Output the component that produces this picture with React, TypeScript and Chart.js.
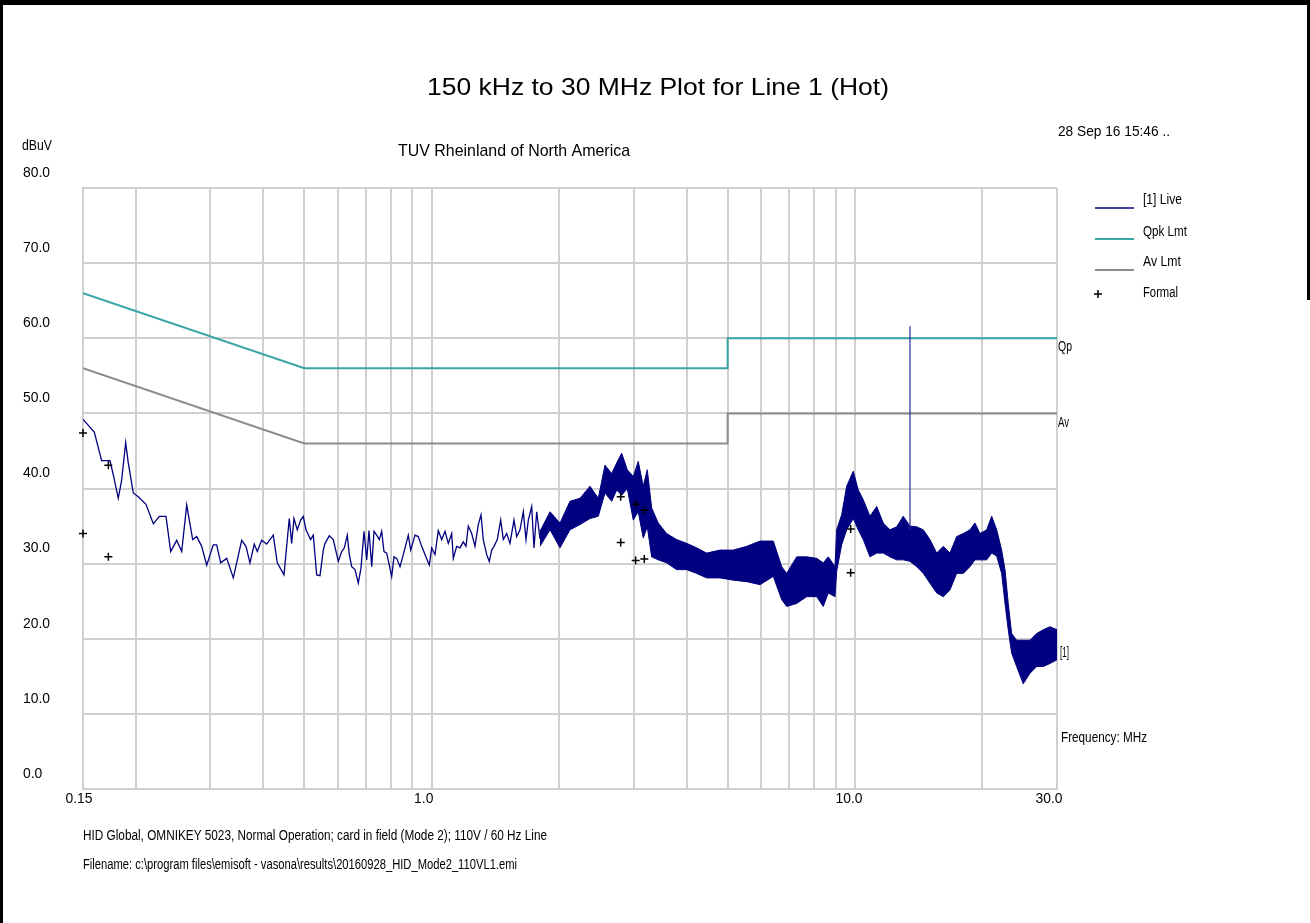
import React, { useEffect, useRef } from "react";
import { Chart, registerables } from "chart.js";
Chart.register(...registerables);

// ---- Data (frequency in MHz, level in dBuV) ----
const liveFreq = [
  0.15, 0.1595, 0.166, 0.1737, 0.1769, 0.1817, 0.1851, 0.1892, 0.1919, 0.1972,
  0.2026, 0.2113, 0.2199, 0.2272, 0.2356, 0.2417, 0.2497, 0.2566, 0.2637, 0.2724,
  0.2784, 0.2861, 0.294, 0.3047, 0.3104, 0.3172, 0.3278, 0.3398, 0.3556, 0.364,
  0.372, 0.3808, 0.3871, 0.3965, 0.4074, 0.4223, 0.4316, 0.4476, 0.4607, 0.4667,
  0.4726, 0.4812, 0.4902, 0.4971, 0.5045, 0.5175, 0.525, 0.5348, 0.5445, 0.5543,
  0.5595, 0.5727, 0.5853, 0.6015, 0.6127, 0.6214, 0.6317, 0.6386, 0.647, 0.6587,
  0.6706, 0.6805, 0.6917, 0.702, 0.7108, 0.7214, 0.7304, 0.7412, 0.7518, 0.7616,
  0.7712, 0.7827, 0.7938, 0.8042, 0.8144, 0.8264, 0.8414, 0.8566, 0.8802, 0.8918,
  0.9129, 0.9294, 0.9468, 0.9639, 0.9867, 0.9997, 1.0178, 1.0362, 1.0556, 1.0747,
  1.0942, 1.1146, 1.1243, 1.1453, 1.166, 1.1872, 1.2047, 1.2199, 1.2427, 1.2652,
  1.2881, 1.3072, 1.3236, 1.3483, 1.3675, 1.3855, 1.4029, 1.4283, 1.455, 1.4757,
  1.5033, 1.5305, 1.5642, 1.5873, 1.6161, 1.6455, 1.6699, 1.6909, 1.7224, 1.7441,
  1.7699, 1.802,
];
const liveLevel = [
  49.2, 47.5, 43.7, 43.7, 41.8, 38.7, 41.1, 46.1, 43.4, 39.4,
  38.9, 37.9, 35.3, 36.3, 36.3, 31.6, 33.1, 31.6, 37.8, 33.2,
  33.6, 32.3, 29.8, 32.5, 32.5, 30.1, 30.7, 28.1, 33.1, 32.3,
  30.1, 32.6, 31.6, 33.1, 32.6, 33.8, 30.1, 28.5, 36.0, 32.7,
  36.0, 34.5, 35.8, 36.3, 34.5, 33.2, 33.8, 28.5, 28.4, 31.8,
  32.7, 33.7, 33.2, 30.3, 31.6, 32.1, 33.8, 31.2, 29.6, 29.2,
  27.4, 29.4, 34.3, 30.5, 34.4, 29.6, 34.3, 33.8, 33.2, 34.3,
  31.6, 31.4, 29.8, 28.3, 30.9, 30.7, 29.6, 31.2, 33.8, 31.8,
  33.8, 33.6, 32.3, 31.2, 29.8, 32.1, 31.2, 34.4, 33.2, 34.3,
  32.7, 34.0, 30.7, 32.3, 32.1, 32.9, 32.3, 35.0, 34.0, 32.3,
  35.2, 36.5, 33.2, 31.2, 30.3, 31.8, 32.3, 33.2, 35.8, 33.2,
  34.0, 32.7, 35.8, 33.6, 34.5, 36.9, 33.2, 35.8, 37.6, 32.1,
  36.9, 33.3,
];

// dense part of the trace: upper / lower envelope
const bandFreq = [
  1.802, 1.903, 2.009, 2.121, 2.24, 2.365, 2.474, 2.566, 2.661, 2.735,
  2.81, 2.897, 2.993, 3.075, 3.16, 3.23, 3.308, 3.429, 3.589, 3.789,
  4.001, 4.225, 4.461, 4.796, 5.157, 5.547, 5.963, 6.41, 6.71, 6.895,
  7.281, 7.687, 8.117, 8.413, 8.645, 8.966, 9.049, 9.298, 9.555, 9.904,
  10.177, 10.457, 10.845, 11.25, 11.66, 12.093, 12.541, 12.999, 13.483, 13.984,
  14.495, 15.033, 15.591, 16.161, 16.76, 17.381, 18.015, 18.685, 19.2, 19.73,
  20.46, 21.03, 21.61, 22.2, 22.61, 23.01, 23.44, 24.09, 24.97, 25.9,
  26.86, 27.84, 28.87, 30.0,
];
const bandUpper = [
  34.3, 36.9, 35.4, 38.3, 38.7, 40.3, 38.7, 43.1, 42.0, 43.4,
  44.7, 42.5, 41.6, 43.6, 40.3, 42.5, 37.4, 35.4, 34.0, 33.2,
  32.7, 32.1, 31.4, 31.8, 31.8, 32.3, 33.0, 33.0, 29.6, 28.7,
  30.9, 30.9, 30.7, 30.1, 30.9, 29.6, 34.5, 36.5, 40.3, 42.3,
  39.8, 38.5, 36.3, 37.6, 35.4, 34.5, 34.9, 36.3, 35.0, 34.9,
  34.5, 33.2, 31.4, 32.3, 31.4, 33.6, 34.0, 34.5, 35.4, 34.0,
  34.5, 36.3, 34.5, 31.8, 29.2, 24.7, 20.7, 19.8, 19.8, 19.8,
  20.7, 21.2, 21.6, 21.2,
];
const bandLower = [
  32.3, 34.5, 32.1, 34.5, 35.2, 36.0, 36.3, 39.4, 38.3, 39.8,
  39.1, 40.0, 35.8, 36.9, 33.4, 34.9, 30.9, 30.5, 30.1, 29.2,
  29.2, 28.7, 28.1, 28.1, 27.8, 27.6, 27.2, 28.3, 25.2, 24.3,
  24.7, 25.6, 25.6, 24.3, 26.1, 25.6, 29.0, 32.5, 34.5, 36.0,
  34.5, 33.2, 30.9, 31.4, 31.4, 30.9, 30.5, 30.5, 30.3, 29.6,
  28.7, 27.4, 26.1, 25.6, 26.5, 28.7, 28.7, 29.6, 30.5, 30.5,
  30.5, 31.4, 31.0, 28.7, 24.7, 21.2, 18.1, 16.3, 14.0, 15.4,
  16.3, 16.3, 16.7, 17.2,
];

const spikeFreq = [13.483, 13.483];
const spikeLevel = [34.5, 61.6];

const qpkFreq = [0.15, 0.5, 5, 5, 30];
const qpkLevel = [66, 56, 56, 60, 60];
const avFreq = [0.15, 0.5, 5, 5, 30];
const avLevel = [56, 46, 46, 50, 50];

const formalFreq = [0.15, 0.1722, 0.15, 0.1722, 2.795, 3.032, 3.178, 2.795, 3.032, 3.178, 9.765, 9.765];
const formalLevel = [47.4, 43.1, 34.0, 30.9, 38.9, 37.9, 37.1, 32.8, 30.4, 30.6, 34.6, 28.8];

const xGridValues = [
  0.15, 0.2, 0.3, 0.4, 0.5, 0.6, 0.7, 0.8, 0.9, 1, 2, 3, 4, 5, 6, 7, 8, 9, 10, 20, 30,
];
const xTickValues = [0.15, 1, 10, 30];
const xTickLabels = ["0.15", "1.0", "10.0", "30.0"];
const yTickValues = [0, 10, 20, 30, 40, 50, 60, 70, 80];
const yTickLabels = ["0.0", "10.0", "20.0", "30.0", "40.0", "50.0", "60.0", "70.0", "80.0"];

const legendLabels = ["[1] Live", "Qpk Lmt", "Av Lmt", "Formal"];

const TITLE = "150 kHz to 30 MHz Plot for Line 1 (Hot)";
const SUBTITLE = "TUV Rheinland of North America";
const DATE_TEXT = "28 Sep 16 15:46 ..";
const Y_UNIT = "dBuV";
const X_UNIT = "Frequency: MHz";
const FOOTER1 = "HID Global, OMNIKEY 5023, Normal Operation; card in field (Mode 2); 110V / 60 Hz Line";
const FOOTER2 = "Filename: c:\\program files\\emisoft - vasona\\results\\20160928_HID_Mode2_110VL1.emi";

const NAVY = "#000080";
const TEAL = "#3aa5a5";
const GRAY = "#8c8c8c";
const GRID = "#cfcfcf";
const FONT = '"Liberation Sans", Arial, sans-serif';

const pts = (xs: number[], ys: number[]) => xs.map((x, i) => ({ x, y: ys[i] }));

function fitText(ctx: CanvasRenderingContext2D, text: string, x: number, y: number, w: number, size: number, align: "left" | "center" = "left") {
  ctx.font = `${size}px ${FONT}`;
  const m = ctx.measureText(text).width;
  const sx = w / m;
  ctx.save();
  ctx.translate(align === "center" ? x - w / 2 : x, y);
  ctx.scale(sx, 1);
  ctx.textAlign = "left";
  ctx.textBaseline = "middle";
  ctx.fillStyle = "#000";
  ctx.fillText(text, 0, 0);
  ctx.restore();
}

function scaledText(ctx: CanvasRenderingContext2D, text: string, x: number, y: number, size: number, sx: number, align: "left" | "center") {
  ctx.font = `${size}px ${FONT}`;
  const m = ctx.measureText(text).width * sx;
  ctx.save();
  ctx.translate(align === "center" ? x - m / 2 : x, y);
  ctx.scale(sx, 1);
  ctx.textAlign = "left";
  ctx.textBaseline = "middle";
  ctx.fillStyle = "#000";
  ctx.fillText(text, 0, 0);
  ctx.restore();
}

function drawCross(ctx: CanvasRenderingContext2D, x: number, y: number, r: number) {
  ctx.save();
  ctx.strokeStyle = "#000";
  ctx.lineWidth = 1.5;
  ctx.beginPath();
  ctx.moveTo(x - r, y);
  ctx.lineTo(x + r, y);
  ctx.moveTo(x, y - r);
  ctx.lineTo(x, y + r);
  ctx.stroke();
  ctx.restore();
}

const decorPlugin = {
  id: "decor",
  beforeDraw(chart: any) {
    const ctx = chart.ctx as CanvasRenderingContext2D;
    ctx.save();
    ctx.fillStyle = "#fff";
    ctx.fillRect(0, 0, chart.width, chart.height);
    ctx.restore();
  },
  afterDraw(chart: any) {
    const ctx = chart.ctx as CanvasRenderingContext2D;
    const xs = chart.scales.x;
    const ys = chart.scales.y;

    // frame
    ctx.save();
    ctx.fillStyle = "#000";
    ctx.fillRect(0, 0, chart.width, 5);
    ctx.fillRect(0, 0, 3, chart.height);
    ctx.fillRect(chart.width - 3, 0, 3, 300);
    ctx.restore();

    // titles
    fitText(ctx, TITLE, 658, 88, 462, 24, "center");
    fitText(ctx, SUBTITLE, 398, 151, 232, 17);
    fitText(ctx, DATE_TEXT, 1058, 132, 112, 14);
    fitText(ctx, Y_UNIT, 22, 146, 30, 14);

    // y tick labels
    ctx.font = `14px ${FONT}`;
    const sxY = 27 / ctx.measureText("80.0").width;
    yTickValues.forEach((v, i) => {
      const py = ys.getPixelForValue(v) - 15;
      scaledText(ctx, yTickLabels[i], 23, py, 14, sxY, "left");
    });

    // x tick labels
    const xOffsets = [-4, -8, -6, -8];
    xTickValues.forEach((v, i) => {
      const px = xs.getPixelForValue(v) + xOffsets[i];
      scaledText(ctx, xTickLabels[i], px, ys.bottom + 10, 14, sxY, "center");
    });

    // legend
    const legY = [208, 239, 270];
    const legColors = [NAVY, TEAL, GRAY];
    const legW = [1.5, 2, 2];
    legY.forEach((y, i) => {
      ctx.save();
      ctx.strokeStyle = legColors[i];
      ctx.lineWidth = legW[i];
      ctx.beginPath();
      ctx.moveTo(1095, y);
      ctx.lineTo(1134, y);
      ctx.stroke();
      ctx.restore();
    });
    drawCross(ctx, 1098, 294, 4);
    const legTextY = [200, 232, 262, 293];
    const legTextW = [39, 44, 38, 35];
    legendLabels.forEach((t, i) => fitText(ctx, t, 1143, legTextY[i], legTextW[i], 14));

    // right-side trace tags
    fitText(ctx, "Qp", 1058, 347, 14, 14);
    fitText(ctx, "Av", 1058, 423, 11, 14);
    fitText(ctx, "[1]", 1060, 653, 9, 14);
    fitText(ctx, X_UNIT, 1061, 738, 86, 14);

    // footer
    fitText(ctx, FOOTER1, 83, 836, 464, 14);
    fitText(ctx, FOOTER2, 83, 865, 434, 14);
  },
};

export default function App() {
  const ref = useRef<HTMLCanvasElement | null>(null);
  useEffect(() => {
    if (!ref.current) return;
    const line = (data: any, color: string, width: number, order: number, extra: any = {}) => ({
      type: "line",
      data,
      borderColor: color,
      backgroundColor: color,
      borderWidth: width,
      pointRadius: 0,
      tension: 0,
      fill: false,
      order,
      ...extra,
    });
    const chart = new Chart(ref.current, {
      type: "line",
      data: {
        datasets: [
          line(pts(qpkFreq, qpkLevel), TEAL, 2, 6),
          line(pts(avFreq, avLevel), GRAY, 2, 6),
          line(pts(liveFreq, liveLevel), NAVY, 1.3, 3),
          line(pts(bandFreq, bandUpper), NAVY, 1, 4),
          line(pts(bandFreq, bandLower), NAVY, 1, 4, { fill: "-1", backgroundColor: NAVY }),
          line(pts(spikeFreq, spikeLevel), "#2b2b9c", 1.2, 2),
          {
            type: "scatter",
            data: pts(formalFreq, formalLevel),
            showLine: false,
            pointStyle: "cross",
            pointRadius: 4,
            pointBorderWidth: 1.5,
            borderColor: "#000",
            backgroundColor: "#000",
            clip: false,
            order: 0,
          },
        ] as any,
      },
      options: {
        responsive: false,
        animation: false,
        events: [],
        layout: { padding: { left: 83, right: 253, top: 188, bottom: 134 } },
        plugins: { legend: { display: false }, title: { display: false }, tooltip: { enabled: false } },
        scales: {
          x: {
            type: "logarithmic",
            min: 0.15,
            max: 30,
            afterBuildTicks: (scale: any) => {
              scale.ticks = xGridValues.map((v) => ({ value: v }));
            },
            afterFit: (scale: any) => {
              scale.height = 0;
            },
            ticks: { display: false },
            grid: { color: GRID, lineWidth: 2, drawTicks: false },
            border: { display: true, color: GRID, width: 2 },
          },
          y: {
            type: "linear",
            min: 0,
            max: 80,
            afterBuildTicks: (scale: any) => {
              scale.ticks = yTickValues.map((v) => ({ value: v }));
            },
            afterFit: (scale: any) => {
              scale.width = 0;
            },
            ticks: { display: false },
            grid: { color: GRID, lineWidth: 2, drawTicks: false },
            border: { display: true, color: GRID, width: 2 },
          },
        },
      } as any,
      plugins: [decorPlugin],
    });
    return () => chart.destroy();
  }, []);
  return (
    <div style={{ position: "absolute", left: 0, top: 0, width: 1310, height: 923, background: "#fff" }}>
      <canvas ref={ref} width={1310} height={923} style={{ display: "block" }} />
    </div>
  );
}
